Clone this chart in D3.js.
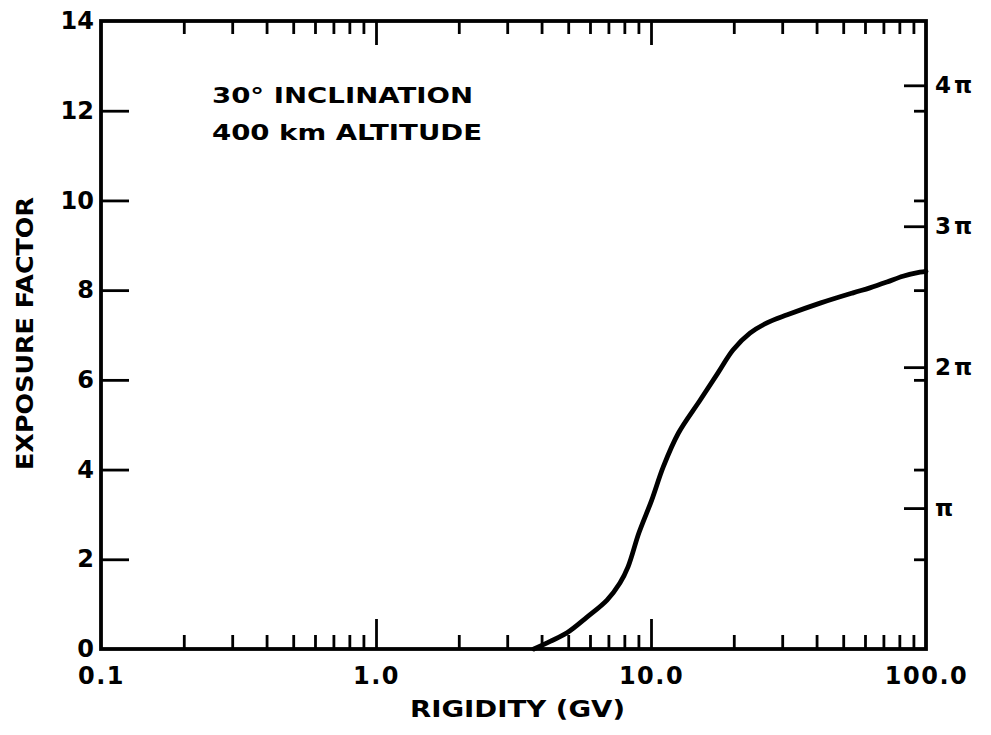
<!DOCTYPE html>
<html>
<head>
<meta charset="utf-8">
<script src="https://cdn.jsdelivr.net/npm/d3@7"></script>
<style>
  body { margin: 0; background: #fff; }
  svg text { font-family: "DejaVu Sans", "Liberation Sans", sans-serif; font-weight: bold; fill: #000; }
</style>
</head>
<body>
<div class="chartDiv"></div>
<script>
// curve: rigidity (GV) vs exposure factor
var rigidity = [3.75, 4.3, 4.95, 5.85, 6.92, 7.71, 8.25, 9.04, 10.06, 11.08, 12.57, 15.1, 17.5, 19.9, 22.9, 26.4, 31.3, 41.2, 54.3, 62.5, 72.1, 82.4, 95.1, 100];
var exposure = [0, 0.17, 0.36, 0.71, 1.09, 1.47, 1.83, 2.59, 3.32, 4.06, 4.81, 5.55, 6.15, 6.67, 7.04, 7.27, 7.45, 7.71, 7.94, 8.05, 8.18, 8.31, 8.40, 8.42];

var xMajor = [0.1, 1, 10, 100];
var xMajorLabels = ["0.1", "1.0", "10.0", "100.0"];
var yTicks = [0, 2, 4, 6, 8, 10, 12, 14];
var piTicks = [1, 2, 3, 4];
var piLabels = ["π", "2π", "3π", "4π"];

var margin = {top: 21, right: 65, bottom: 86, left: 101},
    width = 991 - margin.left - margin.right,
    height = 735 - margin.top - margin.bottom;

var svg = d3.select('div.chartDiv').append('svg')
    .attr('width', 991).attr('height', 735);
var g = svg.append('g').attr('transform', 'translate(' + margin.left + ',' + margin.top + ')');

var x = d3.scaleLog().domain([0.1, 100]).range([0, width]);
var y = d3.scaleLinear().domain([0, 14]).range([height, 0]);

// minor log ticks 2..9 in each decade
var xMinor = [];
[0.1, 1, 10].forEach(function(d) {
  for (var k = 2; k <= 9; k++) xMinor.push(+(d * k).toPrecision(3));
});

function styleAxis(sel) {
  sel.select('.domain').remove();
  sel.selectAll('line').attr('stroke', '#000').attr('stroke-width', 2.8);
}

// bottom ticks (inward)
g.append('g').attr('transform', 'translate(0,' + height + ')')
  .call(d3.axisBottom(x).tickValues(xMinor).tickSize(-14).tickFormat(''))
  .call(styleAxis);
g.append('g').attr('transform', 'translate(0,' + height + ')')
  .call(d3.axisBottom(x).tickValues([1, 10]).tickSize(-30).tickFormat(''))
  .call(styleAxis);
// bottom labels
g.append('g').attr('transform', 'translate(0,' + height + ')')
  .call(d3.axisBottom(x).tickValues(xMajor).tickSize(0).tickPadding(18)
    .tickFormat(function(d, i) { return xMajorLabels[i]; }))
  .call(function(s) {
    s.select('.domain').remove();
    s.selectAll('text').attr('font-size', 24).attr('letter-spacing', 1.5);
  });

// top ticks
g.append('g')
  .call(d3.axisTop(x).tickValues(xMinor).tickSize(-13).tickFormat(''))
  .call(styleAxis);
g.append('g')
  .call(d3.axisTop(x).tickValues([1, 10]).tickSize(-24).tickFormat(''))
  .call(styleAxis);

// left axis
g.append('g')
  .call(d3.axisLeft(y).tickValues(yTicks.filter(function(d) { return d > 0 && d < 14; })).tickSize(-28).tickFormat(''))
  .call(styleAxis);
g.append('g')
  .call(d3.axisLeft(y).tickValues(yTicks).tickSize(0).tickPadding(7))
  .call(function(s) { s.select('.domain').remove(); s.selectAll('text').attr('font-size', 24); });

// right axis: short ticks at exposure values, long ticks at multiples of pi
g.append('g').attr('transform', 'translate(' + width + ',0)')
  .call(d3.axisRight(y).tickValues([2, 4, 6, 8, 10, 12]).tickSize(-12).tickFormat(''))
  .call(styleAxis);
g.append('g').attr('transform', 'translate(' + width + ',0)')
  .call(d3.axisRight(y).tickValues(piTicks.map(function(d) { return d * Math.PI; })).tickSize(-22).tickPadding(9)
    .tickFormat(function(d, i) { return piLabels[i]; }))
  .call(function(s) {
    s.select('.domain').remove();
    s.selectAll('line').attr('stroke', '#000').attr('stroke-width', 2.8);
    s.selectAll('text').attr('font-size', 23).attr('letter-spacing', 3);
  });

// frame
g.append('rect').attr('width', width).attr('height', height)
  .attr('fill', 'none').attr('stroke', '#000').attr('stroke-width', 3.8);

// curve
var pts = rigidity.map(function(r, i) { return [r, exposure[i]]; });
g.append('path').datum(pts)
  .attr('fill', 'none').attr('stroke', '#000').attr('stroke-width', 4.8)
  .attr('stroke-linecap', 'round')
  .attr('d', d3.line().x(function(d) { return x(d[0]); }).y(function(d) { return y(d[1]); }).curve(d3.curveCatmullRom.alpha(0.5)));

// annotation
g.append('text').attr('x', 111).attr('y', 82).attr('font-size', 21)
  .attr('textLength', 261).attr('lengthAdjust', 'spacingAndGlyphs').text('30° INCLINATION');
g.append('text').attr('x', 111).attr('y', 119).attr('font-size', 21)
  .attr('textLength', 270).attr('lengthAdjust', 'spacingAndGlyphs').text('400 km ALTITUDE');

// axis titles
svg.append('text').attr('x', 410).attr('y', 717)
  .attr('font-size', 23).attr('textLength', 215).attr('lengthAdjust', 'spacingAndGlyphs').text('RIGIDITY (GV)');
svg.append('text').attr('transform', 'translate(33,470) rotate(-90)')
  .attr('font-size', 23).attr('textLength', 273).attr('lengthAdjust', 'spacingAndGlyphs').text('EXPOSURE FACTOR');
</script>
</body>
</html>
